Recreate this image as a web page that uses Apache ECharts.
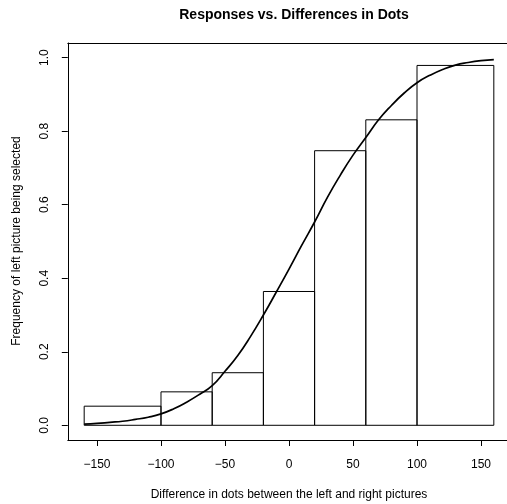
<!DOCTYPE html>
<html>
<head>
<meta charset="utf-8">
<script src="https://cdn.jsdelivr.net/npm/echarts@6/dist/echarts.min.js"></script>
<style>
html,body{margin:0;padding:0;background:#fff;}
#chart{width:507px;height:504px;}
</style>
</head>
<body>
<div id="chart"></div>
<script>
// Histogram bins (edges) and bar heights
var binEdges = [-160, -100, -60, -20, 20, 60, 100, 160];
var binHeights = [0.052, 0.091, 0.143, 0.364, 0.747, 0.831, 0.979];
// Fitted curve points
var curveX = [-160,-150,-140,-130,-120,-110,-100,-90,-80,-70,-60,-50,-40,-30,-20,-10,0,10,20,30,40,50,60,70,80,90,100,110,120,130,140,150,160];
var curveY = [0.003,0.005,0.008,0.011,0.016,0.022,0.031,0.045,0.063,0.084,0.108,0.147,0.190,0.242,0.300,0.362,0.425,0.490,0.553,0.620,0.680,0.735,0.783,0.831,0.870,0.904,0.932,0.952,0.968,0.980,0.987,0.992,0.995];
var xTicks = [-150, -100, -50, 0, 50, 100, 150];
var yTicks = [0, 0.2, 0.4, 0.6, 0.8, 1.0];

var titleText = 'Responses vs. Differences in Dots';
var xTitle = 'Difference in dots between the left and right pictures';
var yTitle = 'Frequency of left picture being selected';

var FONT = '"Liberation Sans", Arial, Helvetica, sans-serif';

var barData = [];
for (var i = 0; i < binHeights.length; i++) {
  barData.push([binEdges[i], binEdges[i + 1], binHeights[i]]);
}
var lineData = curveX.map(function (x, i) { return [x, curveY[i]]; });

var X_MIN = -172.8, X_MAX = 170.3;

var chart = echarts.init(document.getElementById('chart'), null, {renderer: 'canvas'});
var option = {
  animation: false,
  backgroundColor: '#fff',
  title: {
    text: titleText,
    left: 289, top: 3, textAlign: 'center',
    textStyle: {fontFamily: FONT, fontSize: 14, fontWeight: 'bold', color: '#000'}
  },
  grid: {
    left: 67.8, top: 43, right: 0, bottom: 64,
    show: false
  },
  xAxis: [{
    type: 'value', min: X_MIN, max: X_MAX, position: 'bottom',
    axisLine: {show: true, onZero: false, lineStyle: {color: '#000', width: 1}},
    splitLine: {show: false},
    axisTick: {show: true, length: 6, inside: false, customValues: xTicks, lineStyle: {color: '#000'}},
    axisLabel: {
      customValues: xTicks, margin: 19, color: '#000',
      fontFamily: FONT, fontSize: 12,
      formatter: function (v) { return String(v).replace('-', '\u2212'); }
    }
  }, {
    type: 'value', min: X_MIN, max: X_MAX, position: 'top',
    axisLine: {show: true, onZero: false, lineStyle: {color: '#000', width: 1}},
    splitLine: {show: false}, axisTick: {show: false}, axisLabel: {show: false}
  }],
  yAxis: {
    type: 'value', min: -0.04, max: 1.04,
    axisLine: {show: true, onZero: false, lineStyle: {color: '#000', width: 1}},
    splitLine: {show: false},
    axisTick: {show: true, length: 6, inside: false, customValues: yTicks, lineStyle: {color: '#000'}},
    axisLabel: {
      customValues: yTicks, margin: 17, rotate: 90, color: '#000',
      fontFamily: FONT, fontSize: 12,
      formatter: function (v) { return v.toFixed(1); }
    }
  },
  graphic: [
    {type: 'text', x: 289, y: 495, style: {text: xTitle, textAlign: 'center', textVerticalAlign: 'middle', fontFamily: FONT, fontSize: 12, fill: '#000'}},
    {type: 'text', x: 17, y: 241, rotation: Math.PI / 2, style: {text: yTitle, textAlign: 'center', textVerticalAlign: 'middle', fontFamily: FONT, fontSize: 12, fill: '#000'}}
  ],
  series: [
    {
      type: 'custom',
      data: barData,
      renderItem: function (params, api) {
        var p0 = api.coord([api.value(0), 0]);
        var p1 = api.coord([api.value(1), api.value(2)]);
        return {
          type: 'rect',
          shape: {x: p0[0], y: p1[1], width: p1[0] - p0[0], height: p0[1] - p1[1]},
          style: {fill: 'none', stroke: '#000', lineWidth: 1}
        };
      },
      z: 2
    },
    {
      type: 'line',
      data: lineData,
      smooth: true,
      symbol: 'none',
      lineStyle: {color: '#000', width: 1.7},
      z: 3
    }
  ]
};
chart.setOption(option);
</script>
</body>
</html>
